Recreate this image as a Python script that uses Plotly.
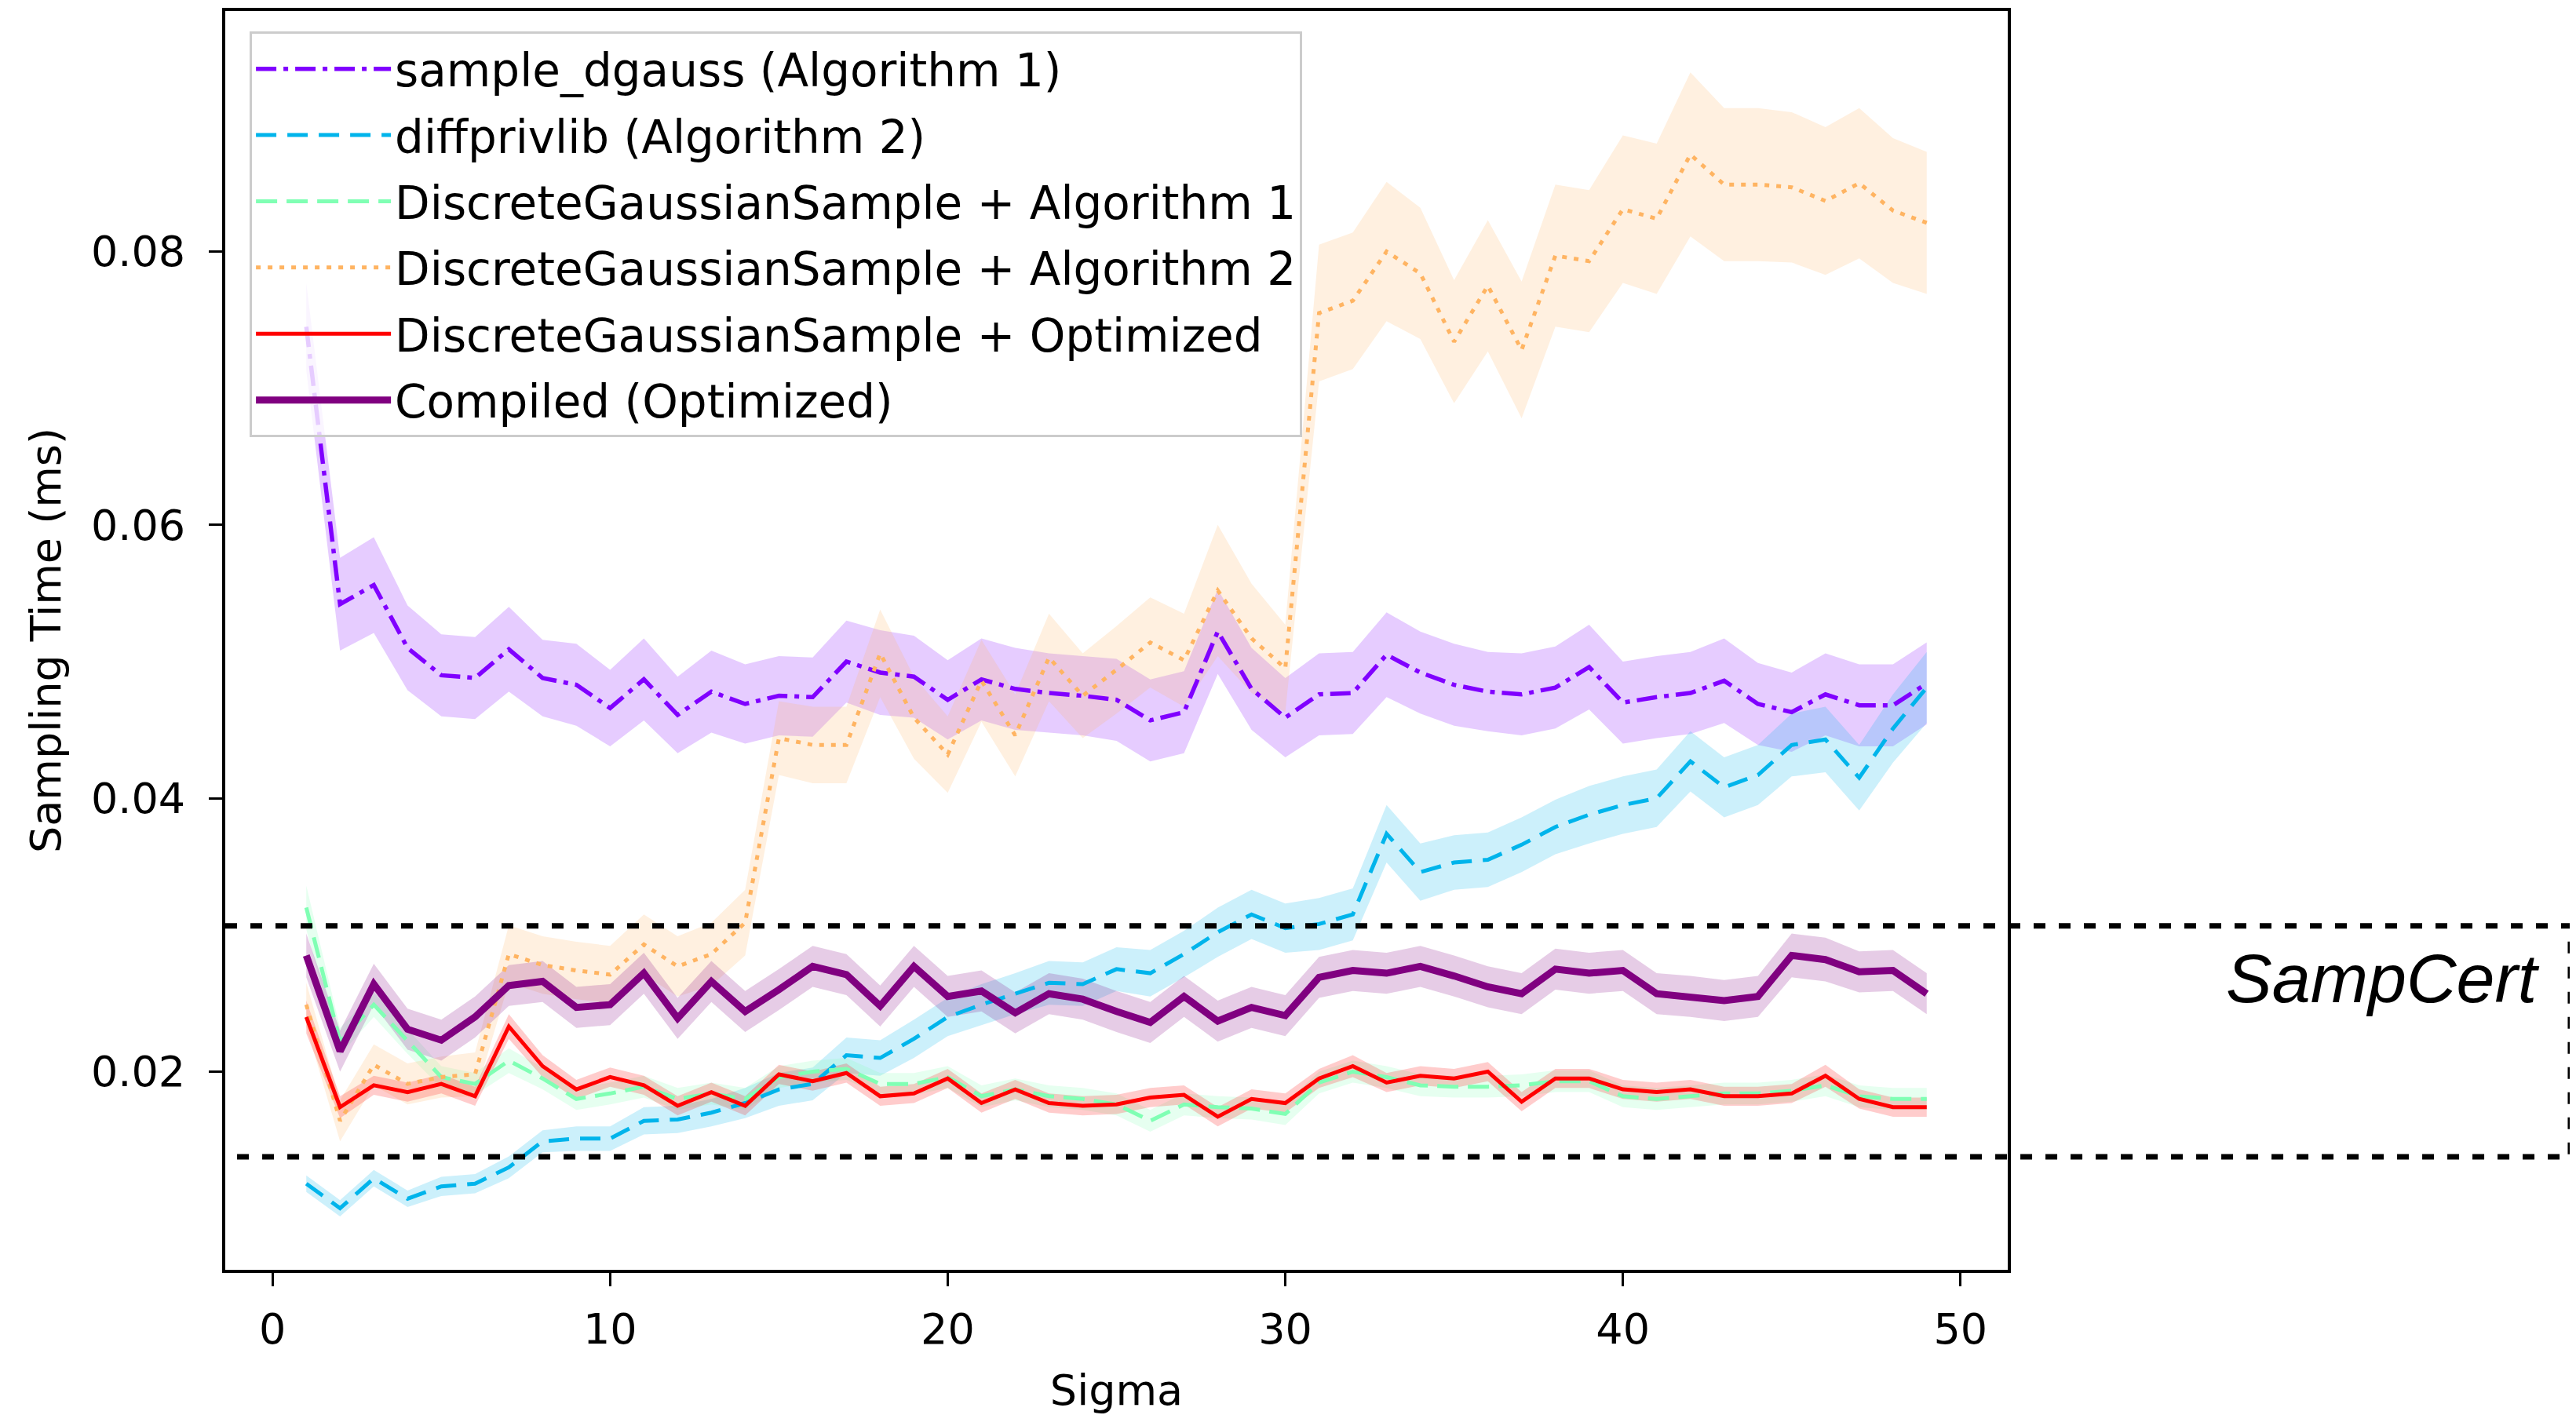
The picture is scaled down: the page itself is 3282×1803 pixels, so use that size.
import plotly.graph_objects as go

sigma = list(range(1, 50))

dgauss = [0.0745, 0.0542, 0.0556, 0.0510, 0.0490, 0.0488, 0.0509, 0.0488, 0.0483, 0.0466,
          0.0487, 0.0461, 0.0478, 0.0469, 0.0475, 0.0474, 0.0500, 0.0492, 0.0489, 0.0472,
          0.0487, 0.0480, 0.0477, 0.0475, 0.0472, 0.0457, 0.0463, 0.0522, 0.0480, 0.0459,
          0.0476, 0.0477, 0.0505, 0.0492, 0.0483, 0.0478, 0.0476, 0.0481, 0.0496, 0.0470,
          0.0474, 0.0477, 0.0486, 0.0469, 0.0463, 0.0476, 0.0468, 0.0468, 0.0484]
dgauss_err = [0.0032, 0.0034, 0.0035, 0.0031, 0.0030, 0.0030, 0.0031, 0.0028, 0.0030, 0.0028,
              0.0030, 0.0028, 0.0030, 0.0029, 0.0029, 0.0029, 0.0030, 0.0031, 0.0030, 0.0029,
              0.0030, 0.0030, 0.0029, 0.0029, 0.0030, 0.0030, 0.0030, 0.0031, 0.0030, 0.0029,
              0.0030, 0.0030, 0.0031, 0.0030, 0.0030, 0.0029, 0.0030, 0.0030, 0.0031, 0.0030,
              0.0030, 0.0030, 0.0031, 0.0030, 0.0029, 0.0030, 0.0030, 0.0030, 0.0030]

diffpriv = [0.0118, 0.0100, 0.0122, 0.0107, 0.0116, 0.0118, 0.0130, 0.0149, 0.0151, 0.0151,
            0.0164, 0.0165, 0.0170, 0.0177, 0.0187, 0.0191, 0.0212, 0.0210, 0.0224, 0.0240,
            0.0249, 0.0257, 0.0265, 0.0264, 0.0275, 0.0272, 0.0286, 0.0302, 0.0315, 0.0305,
            0.0308, 0.0315, 0.0374, 0.0346, 0.0353, 0.0355, 0.0366, 0.0379, 0.0388, 0.0395,
            0.0400, 0.0427, 0.0408, 0.0417, 0.0439, 0.0443, 0.0415, 0.0451, 0.0481]
diffpriv_err = [0.0006, 0.0006, 0.0006, 0.0006, 0.0007, 0.0007, 0.0008, 0.0008, 0.0009, 0.0009,
                0.0010, 0.0010, 0.0010, 0.0011, 0.0012, 0.0012, 0.0013, 0.0013, 0.0014, 0.0014,
                0.0015, 0.0015, 0.0016, 0.0016, 0.0016, 0.0017, 0.0017, 0.0018, 0.0018, 0.0018,
                0.0019, 0.0019, 0.0021, 0.0021, 0.0020, 0.0020, 0.0020, 0.0020, 0.0021, 0.0021,
                0.0021, 0.0022, 0.0022, 0.0022, 0.0023, 0.0024, 0.0024, 0.0025, 0.0026]

dgs_alg1 = [0.0320, 0.0222, 0.0249, 0.0222, 0.0196, 0.0191, 0.0208, 0.0195, 0.0180, 0.0184,
            0.0189, 0.0180, 0.0184, 0.0180, 0.0196, 0.0200, 0.0202, 0.0191, 0.0191, 0.0196,
            0.0182, 0.0187, 0.0182, 0.0180, 0.0176, 0.0164, 0.0176, 0.0174, 0.0173, 0.0169,
            0.0192, 0.0200, 0.0196, 0.0190, 0.0189, 0.0189, 0.0190, 0.0193, 0.0193, 0.0182,
            0.0180, 0.0182, 0.0184, 0.0184, 0.0186, 0.0190, 0.0182, 0.0180, 0.0180]
dgs_alg1_err = [0.0016, 0.0010, 0.0009, 0.0009, 0.0008, 0.0008, 0.0009, 0.0008, 0.0008, 0.0008,
                0.0008, 0.0008, 0.0008, 0.0008, 0.0008, 0.0008, 0.0008, 0.0008, 0.0008, 0.0008,
                0.0008, 0.0008, 0.0008, 0.0008, 0.0008, 0.0008, 0.0008, 0.0008, 0.0008, 0.0008,
                0.0008, 0.0008, 0.0008, 0.0008, 0.0008, 0.0008, 0.0008, 0.0008, 0.0008, 0.0008,
                0.0008, 0.0008, 0.0008, 0.0008, 0.0008, 0.0008, 0.0008, 0.0008, 0.0008]

dgs_alg2 = [0.0249, 0.0164, 0.0205, 0.0191, 0.0196, 0.0198, 0.0286, 0.0278, 0.0274, 0.0271,
            0.0293, 0.0277, 0.0286, 0.0309, 0.0444, 0.0439, 0.0439, 0.0506, 0.0459, 0.0432,
            0.0486, 0.0446, 0.0503, 0.0475, 0.0494, 0.0514, 0.0501, 0.0552, 0.0517, 0.0495,
            0.0755, 0.0764, 0.0800, 0.0784, 0.0734, 0.0775, 0.0728, 0.0797, 0.0793, 0.0831,
            0.0824, 0.0871, 0.0849, 0.0849, 0.0847, 0.0837, 0.0850, 0.0830, 0.0821]
dgs_alg2_err = [0.0016, 0.0015, 0.0015, 0.0015, 0.0015, 0.0016, 0.0021, 0.0021, 0.0021, 0.0021,
                0.0022, 0.0022, 0.0023, 0.0024, 0.0027, 0.0028, 0.0028, 0.0032, 0.0030, 0.0028,
                0.0030, 0.0030, 0.0032, 0.0031, 0.0032, 0.0033, 0.0034, 0.0048, 0.0040, 0.0032,
                0.0050, 0.0050, 0.0051, 0.0048, 0.0045, 0.0048, 0.0050, 0.0052, 0.0052, 0.0054,
                0.0055, 0.0060, 0.0056, 0.0056, 0.0055, 0.0054, 0.0055, 0.0053, 0.0052]

dgs_opt = [0.0240, 0.0174, 0.0190, 0.0185, 0.0191, 0.0182, 0.0233, 0.0204, 0.0187, 0.0196,
           0.0190, 0.0175, 0.0185, 0.0175, 0.0198, 0.0193, 0.0199, 0.0182, 0.0184, 0.0195,
           0.0177, 0.0187, 0.0177, 0.0175, 0.0176, 0.0181, 0.0183, 0.0167, 0.0180, 0.0177,
           0.0195, 0.0204, 0.0192, 0.0197, 0.0195, 0.0200, 0.0178, 0.0195, 0.0195, 0.0187,
           0.0185, 0.0187, 0.0182, 0.0182, 0.0184, 0.0197, 0.0180, 0.0174, 0.0174]
dgs_opt_err = [0.0012, 0.0008, 0.0007, 0.0007, 0.0007, 0.0007, 0.0009, 0.0008, 0.0007, 0.0007,
               0.0007, 0.0007, 0.0007, 0.0007, 0.0007, 0.0007, 0.0007, 0.0007, 0.0007, 0.0007,
               0.0007, 0.0007, 0.0007, 0.0007, 0.0007, 0.0007, 0.0007, 0.0007, 0.0007, 0.0007,
               0.0007, 0.0008, 0.0007, 0.0007, 0.0007, 0.0007, 0.0007, 0.0007, 0.0007, 0.0007,
               0.0007, 0.0007, 0.0007, 0.0007, 0.0007, 0.0008, 0.0007, 0.0007, 0.0007]

compiled = [0.0285, 0.0215, 0.0264, 0.0231, 0.0223, 0.0240, 0.0263, 0.0266, 0.0247, 0.0249,
            0.0272, 0.0239, 0.0266, 0.0244, 0.0260, 0.0277, 0.0271, 0.0248, 0.0277, 0.0255,
            0.0259, 0.0243, 0.0257, 0.0253, 0.0244, 0.0236, 0.0255, 0.0237, 0.0247, 0.0241,
            0.0269, 0.0274, 0.0272, 0.0277, 0.0270, 0.0262, 0.0257, 0.0275, 0.0272, 0.0274,
            0.0257, 0.0255, 0.0252, 0.0255, 0.0285, 0.0282, 0.0273, 0.0274, 0.0257]
compiled_err = [0.0016, 0.0015, 0.0015, 0.0015, 0.0015, 0.0015, 0.0015, 0.0015, 0.0015, 0.0015,
                0.0015, 0.0015, 0.0015, 0.0015, 0.0015, 0.0015, 0.0015, 0.0015, 0.0015, 0.0015,
                0.0015, 0.0015, 0.0015, 0.0015, 0.0015, 0.0015, 0.0015, 0.0015, 0.0015, 0.0015,
                0.0015, 0.0015, 0.0015, 0.0015, 0.0015, 0.0015, 0.0015, 0.0015, 0.0015, 0.0015,
                0.0015, 0.0015, 0.0015, 0.0015, 0.0016, 0.0016, 0.0015, 0.0015, 0.0015]

box_low, box_high = 0.01377, 0.03066
x_ticks = [0, 10, 20, 30, 40, 50]
y_ticks = [0.02, 0.04, 0.06, 0.08]

series = [
    ("sample_dgauss (Algorithm 1)", dgauss, dgauss_err, (128, 0, 255), "26px,9px,6px,9px", 5.5),
    ("diffprivlib (Algorithm 2)", diffpriv, diffpriv_err, (0, 180, 235), "26px,14px", 5),
    ("DiscreteGaussianSample + Algorithm 1", dgs_alg1, dgs_alg1_err, (128, 255, 180), "27px,12px", 5),
    ("DiscreteGaussianSample + Algorithm 2", dgs_alg2, dgs_alg2_err, (255, 180, 98), "6px,9px", 5),
    ("DiscreteGaussianSample + Optimized", dgs_opt, dgs_opt_err, (255, 0, 0), "solid", 5),
    ("Compiled (Optimized)", compiled, compiled_err, (128, 0, 128), "solid", 9),
]

FONT = "DejaVu Sans"
fig = go.Figure()

for name, vals, err, rgb, dash, lw in series:
    upper = [v + e for v, e in zip(vals, err)]
    lower = [v - e for v, e in zip(vals, err)]
    fig.add_trace(go.Scatter(
        x=sigma + sigma[::-1], y=upper + lower[::-1], fill="toself",
        fillcolor="rgba(%d,%d,%d,0.2)" % rgb, line=dict(width=0),
        mode="lines", showlegend=False, hoverinfo="skip"))

for i, (name, vals, err, rgb, dash, lw) in enumerate(series):
    fig.add_trace(go.Scatter(
        x=sigma, y=vals, mode="lines", name=name, legendgroup="g%d" % i,
        line=dict(color="rgb(%d,%d,%d)" % rgb, width=lw, dash=dash)))

# SampCert box: top, right and bottom edges (left edge sits on the axis spine)
bx0, bx1 = 0.0, 1.3157
fig.add_shape(type="path", xref="paper", yref="y",
              path="M %f,%f L %f,%f L %f,%f L %f,%f" % (bx0, box_high, bx1, box_high,
                                                      bx1, box_low, bx0, box_low),
              line=dict(color="black", width=7, dash="15px,17px"), layer="above")

fig.add_annotation(xref="paper", yref="y", x=1.2994, y=(box_low + box_high) / 2 + 0.0046,
                   xanchor="right", yanchor="middle", showarrow=False,
                   text="<i>SampCert</i>",
                   font=dict(family="Liberation Sans", size=88, color="black"))

fig.update_layout(
    width=3274, height=1795,
    margin=dict(l=279, r=724, t=2, b=185),
    paper_bgcolor="white", plot_bgcolor="white",
    font=dict(family=FONT, size=54, color="black"),
    showlegend=True,
    legend=dict(x=0.0137, y=0.9835, xanchor="left", yanchor="top",
                bgcolor="rgba(255,255,255,0.8)", bordercolor="#cccccc", borderwidth=3,
                font=dict(family=FONT, size=58), tracegroupgap=6, itemwidth=172),
)
fig.update_xaxes(range=[-1.4, 51.4], tickvals=x_ticks, ticks="outside", ticklen=17, tickwidth=3,
                 tickcolor="black", showline=True, linecolor="black", linewidth=4, mirror=True,
                 showgrid=False, zeroline=False, ticklabelstandoff=8,
                 title=dict(text="Sigma", standoff=30, font=dict(size=54)))
fig.update_yaxes(range=[0.0055, 0.0976], tickvals=y_ticks, tickformat=".2f", ticks="outside",
                 ticklen=17, tickwidth=3, tickcolor="black", showline=True, linecolor="black",
                 linewidth=4, mirror=True, showgrid=False, zeroline=False, ticklabelstandoff=19,
                 title=dict(text="Sampling Time (ms)", standoff=22, font=dict(size=54)))

fig.write_html("out.html")
